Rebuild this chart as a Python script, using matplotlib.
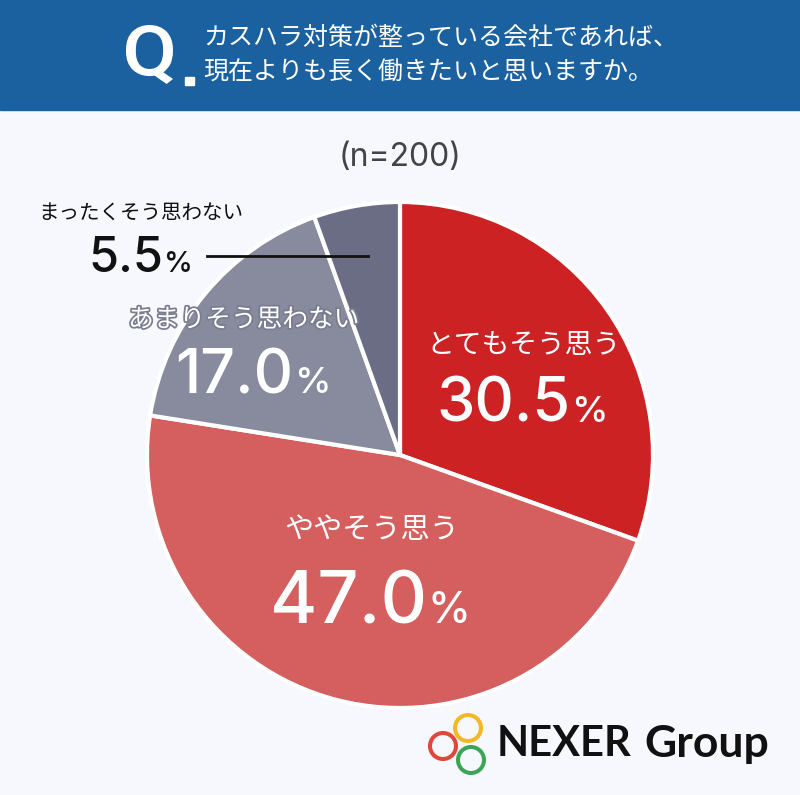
import matplotlib.pyplot as plt
from matplotlib.patches import Rectangle, Circle, PathPatch
from matplotlib.textpath import TextPath
from matplotlib.font_manager import FontProperties
from matplotlib.transforms import Affine2D
import matplotlib.patheffects as pe

plt.rcParams['font.family'] = ['Noto Sans CJK JP', 'DejaVu Sans']

# data
labels = ['とてもそう思う', 'ややそう思う', 'あまりそう思わない', 'まったくそう思わない']
values = [30.5, 47.0, 17.0, 5.5]
colors = ['#cc2224', '#d45f5e', '#888a9d', '#6b6d84']
title_lines = ['カスハラ対策が整っている会社であれば、', '現在よりも長く働きたいと思いますか。']
n_text = '(n=200)'

W, H = 800, 795
fig = plt.figure(figsize=(8, 7.95), dpi=100)
fig.patch.set_facecolor('#f7f8fd')
ax = fig.add_axes([0, 0, 1, 1])

def py(y):
    # pixel row from top -> data y
    return H - y

# header band
ax.add_patch(Rectangle((0, py(110)), W, 110, color='#1b61a0', zorder=1))
# condensed "Q" built from a text path
qp = TextPath((0, 0), 'Q', size=80, prop=FontProperties(family='Roboto', weight='medium'))
qb = qp.get_extents()
sx = 47 / qb.width
sy = 59 / qb.height
qt = Affine2D().translate(-qb.x0, -qb.y0).scale(sx, sy).translate(126, py(84))
ax.add_patch(PathPatch(qt.transform_path(qp), color='white', lw=0, zorder=2))
ax.add_patch(Rectangle((185, py(85)), 9, 8, color='white', zorder=2))
ax.text(203, py(38), title_lines[0], color='white', fontsize=18, ha='left', va='center', zorder=2)
ax.text(203, py(73), title_lines[1], color='white', fontsize=18, ha='left', va='center', zorder=2)

ax.text(400, py(157), n_text, color='#444444', fontsize=23, ha='center', va='center',
        family=['Inter', 'DejaVu Sans'])

# pie
ax.pie(values, colors=colors, startangle=90, counterclock=False,
       center=(400, py(455)), radius=253, frame=True,
       wedgeprops=dict(edgecolor='white', linewidth=3))
ax.set_xlim(0, W)
ax.set_ylim(0, H)
ax.set_aspect('equal')
ax.axis('off')

def pct(x, y, v, size, color):
    ax.text(x, py(y), f'{v:.1f}', color=color, fontsize=size, ha='right', fontweight='medium',
            va='baseline', zorder=5, family=['Inter', 'DejaVu Sans'])
    ax.text(x + 1, py(y), '%', color=color, fontsize=size * 0.6, ha='left', fontweight='medium',
            va='baseline', zorder=5, family=['Inter', 'DejaVu Sans'])

# とてもそう思う
ax.text(524, py(345), labels[0], color='white', fontsize=20, ha='center', va='center')
pct(570, 422, values[0], 44, 'white')
# ややそう思う
ax.text(372, py(530), labels[1], color='white', fontsize=21, ha='center', va='center')
pct(427, 623, values[1], 52, 'white')
# あまりそう思わない
ax.text(244, py(320), labels[2], color='white', fontsize=18.5, ha='center', va='center',
        path_effects=[pe.withStroke(linewidth=2.5, foreground='#7a7c90')])
pct(293, 393, values[2], 44, 'white')
# まったくそう思わない
ax.text(141, py(213), labels[3], color='#111111', fontsize=14.8, ha='center', va='center')
pct(163, 272, values[3], 35, '#111111')
ax.plot([207, 368], [py(256), py(256)], color='#111111', lw=2, zorder=5)

# logo
ax.add_patch(Circle((443, py(746)), 13, fill=False, ec='#e0473a', lw=2.9, zorder=5))
ax.add_patch(Circle((468, py(728)), 13, fill=False, ec='#f2b826', lw=2.9, zorder=5))
ax.add_patch(Circle((471, py(760)), 13, fill=False, ec='#3aa655', lw=2.9, zorder=5))
ax.text(497, py(744), 'NEXER', color='#111111', fontsize=30, fontweight='bold',
        ha='left', va='center', family=['Lato', 'DejaVu Sans'])
ax.text(644, py(744), 'Group', color='#111111', fontsize=32, fontweight='bold',
        ha='left', va='center', family=['Lato', 'DejaVu Sans'])

fig.savefig('out.png', dpi=100, facecolor=fig.get_facecolor())
